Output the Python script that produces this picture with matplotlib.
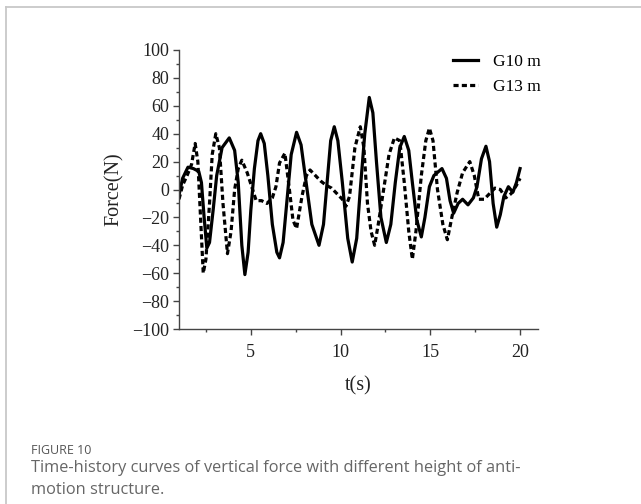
import matplotlib.pyplot as plt
from matplotlib.lines import Line2D
from matplotlib.ticker import MultipleLocator

# === Data ===
t_g10 = [1.0, 1.2, 1.5, 1.8, 2.1, 2.25, 2.4, 2.55, 2.7, 2.9, 3.1, 3.4, 3.8, 4.1, 4.3,
         4.5, 4.67, 4.85, 5.0, 5.2, 5.4, 5.55, 5.75, 5.95, 6.2, 6.45, 6.6, 6.8, 7.0,
         7.25, 7.55, 7.8, 8.05, 8.4, 8.8, 9.05, 9.25, 9.45, 9.65, 9.85, 10.1, 10.4,
         10.65, 10.9, 11.1, 11.35, 11.6, 11.8, 12.0, 12.25, 12.55, 12.8, 13.05, 13.3,
         13.55, 13.8, 14.0, 14.25, 14.5, 14.7, 14.95, 15.2, 15.65, 15.9, 16.1, 16.3,
         16.55, 16.8, 17.1, 17.4, 17.6, 17.85, 18.1, 18.3, 18.5, 18.7, 18.9, 19.1,
         19.35, 19.6, 19.8, 20.0]
f_g10 = [-4, 8, 16, 15, 13, 5, -20, -42, -38, -15, 10, 30, 37, 28, 5,
         -40, -61, -45, -15, 15, 35, 40, 33, 10, -25, -45, -49, -38, -10,
         25, 41, 32, 8, -25, -40, -25, 5, 35, 45, 35, 5, -35,
         -52, -35, 0, 40, 66, 55, 20, -20, -38, -25, 5, 30,
         38, 28, 5, -22, -34, -20, 2, 10, 15, 8, -8, -17,
         -10, -7, -11, -6, 2, 22, 31, 20, -10, -27, -18, -5,
         2, -2, 5, 15]

t_g13 = [1.0, 1.2, 1.45, 1.7, 1.9, 2.05, 2.2, 2.35, 2.5, 2.7, 2.85, 3.05, 3.25, 3.45,
         3.7, 3.9, 4.1, 4.3, 4.5, 4.8, 5.05, 5.3, 5.6, 5.9, 6.2, 6.4, 6.6, 6.9, 7.15,
         7.35, 7.55, 7.85, 8.1, 8.3, 8.6, 8.9, 9.2, 9.5, 9.8, 10.1, 10.3, 10.5, 10.8,
         11.1, 11.3, 11.5, 11.7, 11.9, 12.1, 12.4, 12.7, 13.0, 13.3, 13.55, 13.8, 14.0,
         14.2, 14.5, 14.75, 14.95, 15.15, 15.4, 15.7, 15.95, 16.2, 16.5, 16.8, 17.2,
         17.45, 17.7, 18.0, 18.3, 18.6, 18.9, 19.2, 19.5, 19.8, 20.0]
f_g13 = [-7, 3, 10, 18, 33, 20, -20, -60, -50, -10, 25, 40, 30, -10,
         -46, -30, 0, 15, 21, 12, 2, -8, -8, -10, -6, 2, 19, 26, 0,
         -22, -28, -5, 10, 14, 10, 6, 3, 1, -3, -7, -12, -5, 30,
         45, 30, -10, -30, -40, -25, 0, 25, 37, 35, 5, -30, -50,
         -30, 10, 35, 44, 35, 0, -25, -36, -20, -2, 12, 20,
         10, -7, -7, -3, 1, 0, -6, -3, 3, 8]

plt.rcParams["font.family"] = ["Liberation Serif", "DejaVu Serif"]
sans = ["Open Sans", "DejaVu Sans"]

fig = plt.figure(figsize=(6.41, 5.04), dpi=100)

# light frame around the figure panel
fig.add_artist(Line2D([6 / 641, 1.0], [1 - 7 / 504, 1 - 7 / 504],
                      transform=fig.transFigure, color="#c8c8c8", lw=1.3))
fig.add_artist(Line2D([6 / 641, 6 / 641], [1 - 7 / 504, 0.0],
                      transform=fig.transFigure, color="#c8c8c8", lw=1.3))

ax = fig.add_axes([179 / 641, 1 - 329 / 504, (538 - 179) / 641, (329 - 50) / 504])

ax.plot(t_g10, f_g10, color="black", lw=2.3, label="G10 m")
ax.plot(t_g13, f_g13, color="black", lw=2.3, dashes=(1.6, 1.0), label="G13 m")

ax.set_xlim(1, 21)
ax.set_ylim(-100, 100)
ax.xaxis.set_major_locator(MultipleLocator(5))
ax.xaxis.set_minor_locator(MultipleLocator(2.5))
ax.yaxis.set_major_locator(MultipleLocator(20))
ax.yaxis.set_minor_locator(MultipleLocator(10))
ax.spines["top"].set_visible(False)
ax.spines["right"].set_visible(False)
for s in ("left", "bottom"):
    ax.spines[s].set_color("#444444")
    ax.spines[s].set_linewidth(1.0)
ax.tick_params(which="major", length=4, width=1, color="#444444", labelsize=13,
               labelcolor="#222222", pad=3)
ax.tick_params(axis="x", which="major", pad=7)
ax.tick_params(which="minor", length=2.5, width=1, color="#444444")

ax.set_xlabel("t(s)", fontsize=14.5, color="#222222", labelpad=11)
ax.set_ylabel("Force(N)", fontsize=14.5, color="#222222", labelpad=6)

ax.legend(loc="upper right", bbox_to_anchor=(548 / 641, 1 - 47 / 504),
          bbox_transform=fig.transFigure, frameon=False,
          prop={"size": 12.5}, handlelength=1.4,
          handletextpad=0.9, labelspacing=0.5, borderaxespad=0)

fig.text(31 / 641, 1 - 450 / 504, "FIGURE 10", family=sans,
         fontsize=9, color="#555555", va="center", ha="left")
fig.text(31 / 641, 1 - 468 / 504,
         "Time-history curves of vertical force with different height of anti-",
         family=sans, fontsize=11.8, color="#666666", va="center", ha="left")
fig.text(31 / 641, 1 - 490 / 504, "motion structure.",
         family=sans, fontsize=11.8, color="#666666", va="center", ha="left")

fig.savefig("out.png", dpi=100)
